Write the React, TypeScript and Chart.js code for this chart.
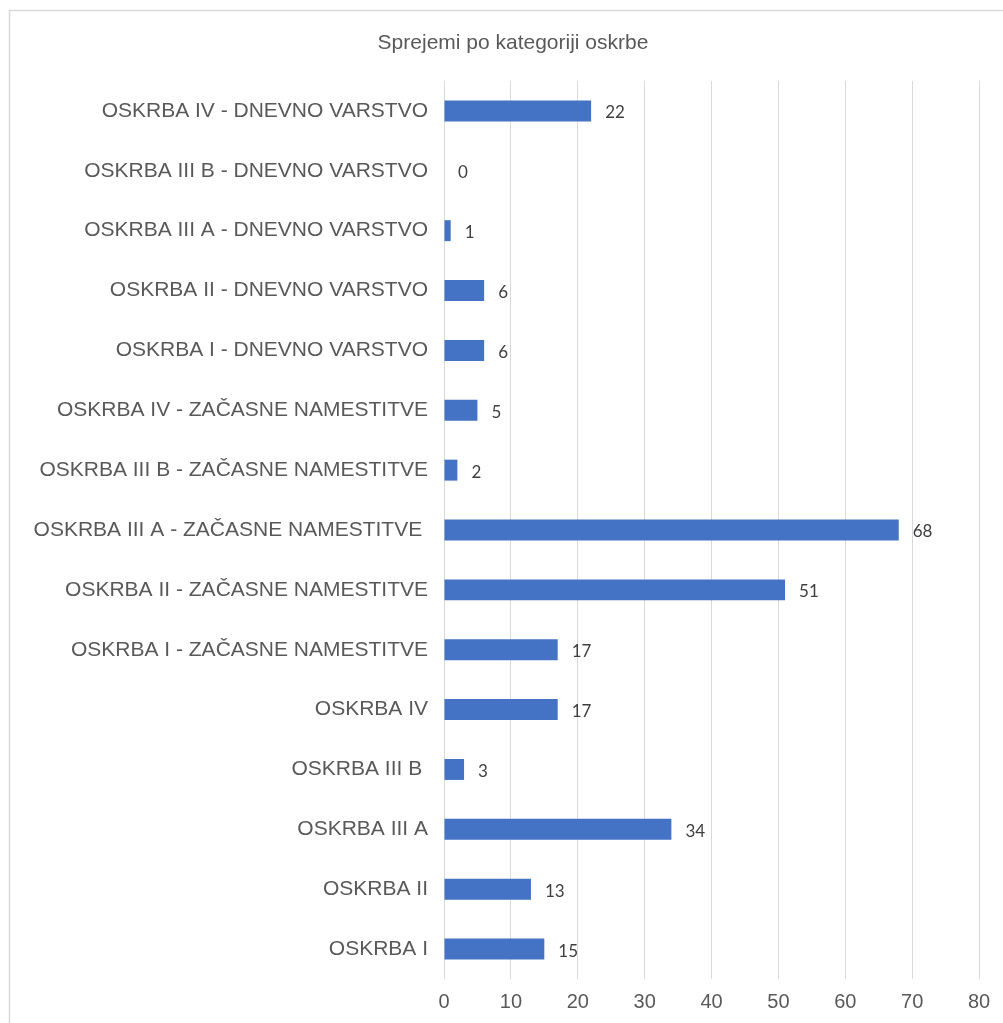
import React, { useEffect, useRef } from "react";
import { Chart, registerables } from "chart.js";

Chart.register(...registerables);

const categories = [
  "OSKRBA IV - DNEVNO VARSTVO",
  "OSKRBA III B - DNEVNO VARSTVO",
  "OSKRBA III A - DNEVNO VARSTVO",
  "OSKRBA II - DNEVNO VARSTVO",
  "OSKRBA I - DNEVNO VARSTVO",
  "OSKRBA IV - ZAČASNE NAMESTITVE",
  "OSKRBA III B - ZAČASNE NAMESTITVE",
  "OSKRBA III A - ZAČASNE NAMESTITVE ",
  "OSKRBA II - ZAČASNE NAMESTITVE",
  "OSKRBA I - ZAČASNE NAMESTITVE",
  "OSKRBA IV",
  "OSKRBA III B ",
  "OSKRBA III A",
  "OSKRBA II",
  "OSKRBA I",
];

const values = [22, 0, 1, 6, 6, 5, 2, 68, 51, 17, 17, 3, 34, 13, 15];

const xTicks = [0, 10, 20, 30, 40, 50, 60, 70, 80];

const title = "Sprejemi po kategoriji oskrbe";

const GRAY = "#595959";
const GRID = "#d9d9d9";
const BAR = "#4472C4";

const framePlugin = {
  id: "frame",
  beforeDraw(chart: any) {
    const ctx = chart.ctx;
    ctx.save();
    ctx.fillStyle = "#ffffff";
    ctx.fillRect(0, 0, chart.width, chart.height);
    ctx.strokeStyle = GRID;
    ctx.lineWidth = 1.5;
    ctx.beginPath();
    ctx.moveTo(9.5, chart.height);
    ctx.lineTo(9.5, 10.5);
    ctx.lineTo(chart.width, 10.5);
    ctx.stroke();
    ctx.fillStyle = GRAY;
    ctx.font = "21px 'Liberation Sans', Arial, sans-serif";
    ctx.textAlign = "center";
    ctx.textBaseline = "middle";
    ctx.fillText(title, 513, 43);
    ctx.restore();
  },
  afterDatasetsDraw(chart: any) {
    const ctx = chart.ctx;
    const meta = chart.getDatasetMeta(0);
    ctx.save();
    ctx.fillStyle = "#404040";
    ctx.font = "17px Lato, 'Open Sans', sans-serif";
    ctx.textAlign = "left";
    ctx.textBaseline = "middle";
    meta.data.forEach((el: any, i: number) => {
      ctx.fillText(String(values[i]), el.x + 14, el.y + 2);
    });
    ctx.restore();
  },
};

export default function App() {
  const ref = useRef<HTMLCanvasElement>(null);
  useEffect(() => {
    const chart = new Chart(ref.current!, {
      type: "bar",
      data: {
        labels: categories,
        datasets: [
          {
            data: values,
            backgroundColor: BAR,
            borderWidth: 0,
            barPercentage: 0.35,
            categoryPercentage: 1,
          },
        ],
      },
      options: {
        indexAxis: "y",
        animation: false,
        responsive: false,
        maintainAspectRatio: false,
        layout: { padding: { top: 81, right: 24, left: 0, bottom: 0 } },
        plugins: {
          legend: { display: false },
          tooltip: { enabled: false },
          title: { display: false },
        },
        scales: {
          x: {
            min: 0,
            max: 80,
            afterBuildTicks(scale: any) {
              scale.ticks = xTicks.map((v) => ({ value: v }));
            },
            afterFit(scale: any) {
              scale.height = 44;
            },
            grid: { color: GRID, lineWidth: 1, drawTicks: false },
            border: { display: false },
            ticks: {
              color: GRAY,
              font: { family: "'Liberation Sans', Arial, sans-serif", size: 20 },
              padding: 11,
            },
          },
          y: {
            afterFit(scale: any) {
              scale.width = 444;
            },
            grid: { display: false, drawTicks: false },
            border: { display: false },
            ticks: {
              color: GRAY,
              font: { family: "'Liberation Sans', Arial, sans-serif", size: 21 },
              padding: 16,
              autoSkip: false,
            },
          },
        },
      },
      plugins: [framePlugin],
    });
    return () => chart.destroy();
  }, []);
  return (
    <div style={{ position: "fixed", left: 0, top: 0, width: 1003, height: 1023, background: "#fff" }}>
      <canvas ref={ref} width={1003} height={1023} style={{ display: "block" }} />
    </div>
  );
}
